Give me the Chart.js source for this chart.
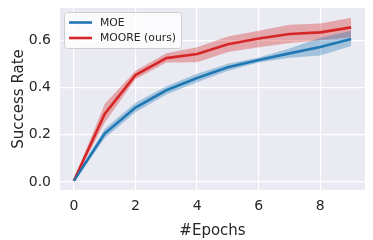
<!DOCTYPE html>
<html>
<head>
<meta charset="utf-8">
<script src="https://cdn.jsdelivr.net/npm/chart.js"></script>
<style>
  html, body { margin: 0; padding: 0; background: #fff; }
  #wrap { width: 373px; height: 240px; }
</style>
</head>
<body>
<div id="wrap"><canvas id="myChart" width="373" height="240"></canvas></div>
<script>
var epochs = [0, 1, 2, 3, 4, 5, 6, 7, 8, 9];
var xTicks = [0, 2, 4, 6, 8];
var yTicks = [0.0, 0.2, 0.4, 0.6];

var moeMean = [0.005, 0.205, 0.315, 0.388, 0.44, 0.485, 0.516, 0.544, 0.571, 0.605];
var moeLow  = [0.0, 0.185, 0.295, 0.37, 0.422, 0.47, 0.505, 0.525, 0.535, 0.575];
var moeHigh = [0.01, 0.225, 0.335, 0.405, 0.458, 0.5, 0.527, 0.565, 0.61, 0.64];

var mooreMean = [0.005, 0.288, 0.452, 0.524, 0.541, 0.583, 0.607, 0.626, 0.633, 0.654];
var mooreLow  = [0.0, 0.25, 0.435, 0.505, 0.506, 0.55, 0.57, 0.588, 0.6, 0.612];
var mooreHigh = [0.01, 0.33, 0.47, 0.545, 0.57, 0.615, 0.64, 0.665, 0.67, 0.695];

var blue = 'rgb(31, 119, 180)';
var red = 'rgb(214, 39, 40)';

function pts(ys) {
    return ys.map(function (y, i) { return { x: epochs[i], y: y } })
}

// plot background
var bgPlugin = {
    id: 'bg',
    beforeDraw: function (chart) {
        var ctx = chart.ctx;
        var a = chart.chartArea;
        ctx.save();
        ctx.fillStyle = '#eaeaf2';
        ctx.fillRect(a.left, a.top, a.right - a.left, a.bottom - a.top);
        ctx.restore();
    }
};

// legend box in the upper left of the plot, like matplotlib
var legendPlugin = {
    id: 'boxLegend',
    afterDatasetsDraw: function (chart) {
        var ctx = chart.ctx;
        var a = chart.chartArea;
        var items = chart.data.datasets.filter(function (d) { return d.inLegend });
        var x = a.left + 4, y = a.top + 4;
        var w = 117, h = 36;
        ctx.save();
        ctx.fillStyle = 'rgba(255,255,255,0.8)';
        ctx.strokeStyle = '#cfcfcf';
        ctx.lineWidth = 1;
        ctx.beginPath();
        ctx.roundRect(x + 0.5, y + 0.5, w, h, 3);
        ctx.fill();
        ctx.stroke();
        ctx.font = '10.8px "DejaVu Sans"';
        ctx.textBaseline = 'middle';
        items.forEach(function (d, i) {
            var cy = y + 10.5 + i * 15.5;
            ctx.strokeStyle = d.borderColor;
            ctx.lineWidth = 2.6;
            ctx.beginPath();
            ctx.moveTo(x + 5, cy);
            ctx.lineTo(x + 28, cy);
            ctx.stroke();
            ctx.fillStyle = '#262626';
            ctx.fillText(d.label, x + 36, cy + 0.5);
        });
        ctx.restore();
    }
};

var ctx = document.getElementById('myChart').getContext('2d');
var myChart = new Chart(ctx, {
    type: 'line',
    data: {
        datasets: [
            { label: 'moeHigh', data: pts(moeHigh), borderWidth: 0, pointRadius: 0, backgroundColor: 'rgba(31,119,180,0.35)', fill: '+1' },
            { label: 'moeLow', data: pts(moeLow), borderWidth: 0, pointRadius: 0, backgroundColor: 'rgba(31,119,180,0.35)', fill: false },
            { label: 'mooreHigh', data: pts(mooreHigh), borderWidth: 0, pointRadius: 0, backgroundColor: 'rgba(214,39,40,0.35)', fill: '+1' },
            { label: 'mooreLow', data: pts(mooreLow), borderWidth: 0, pointRadius: 0, backgroundColor: 'rgba(214,39,40,0.35)', fill: false },
            { label: 'MOE', inLegend: true, data: pts(moeMean), borderColor: blue, backgroundColor: blue, borderWidth: 2.6, pointRadius: 0, fill: false },
            { label: 'MOORE (ours)', inLegend: true, data: pts(mooreMean), borderColor: red, backgroundColor: red, borderWidth: 2.6, pointRadius: 0, fill: false }
        ]
    },
    options: {
        animation: false,
        responsive: false,
        devicePixelRatio: 1,
        layout: { padding: { top: 8, right: 8, left: 0, bottom: 0 } },
        plugins: {
            tooltip: { enabled: false },
            legend: { display: false }
        },
        scales: {
            x: {
                type: 'linear',
                min: -0.45,
                max: 9.45,
                afterBuildTicks: function (scale) { scale.ticks = xTicks.map(function (v) { return { value: v } }) },
                afterFit: function (scale) {
                    scale.height = 50;
                    scale.paddingLeft = 0;
                    scale.paddingRight = 0;
                },
                grid: { color: '#ffffff', lineWidth: 1.2, drawTicks: false },
                border: { display: false },
                ticks: { color: '#262626', padding: 8, font: { family: 'DejaVu Sans', size: 14 } },
                title: { display: true, text: '#Epochs', color: '#262626', padding: { top: 2, bottom: 0 }, font: { family: 'DejaVu Sans', size: 15 } }
            },
            y: {
                min: -0.034,
                max: 0.736,
                afterBuildTicks: function (scale) { scale.ticks = yTicks.map(function (v) { return { value: v } }) },
                afterFit: function (scale) {
                    scale.width = 60;
                    scale.paddingTop = 0;
                    scale.paddingBottom = 0;
                },
                grid: { color: '#ffffff', lineWidth: 1.2, drawTicks: false },
                border: { display: false },
                ticks: { color: '#262626', padding: 9, font: { family: 'DejaVu Sans', size: 14 }, callback: function (v) { return v.toFixed(1) } },
                title: { display: true, text: 'Success Rate', color: '#262626', padding: { top: 10, bottom: 0 }, font: { family: 'DejaVu Sans', size: 15 } }
            }
        }
    },
    plugins: [bgPlugin, legendPlugin]
});
</script>
</body>
</html>
